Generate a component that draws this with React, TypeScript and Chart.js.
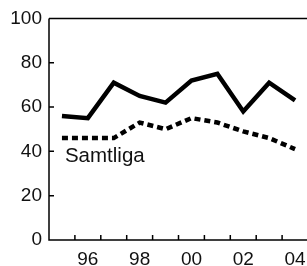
import React, { useEffect, useRef } from 'react';
import { Chart, registerables } from 'chart.js';

Chart.register(...registerables);

const years = ['1995', '1996', '1997', '1998', '1999', '2000', '2001', '2002', '2003', '2004'];
const yearLabels = ['', '96', '', '98', '', '00', '', '02', '', '04'];
const kvinnor = [56, 55, 71, 65, 62, 72, 75, 58, 71, 63];
const samtliga = [46, 46, 46, 53, 50, 55, 53, 49, 46, 41];
const seriesLabel = 'Samtliga';
const labelAnchorValue = 35;

const FONT = "'Liberation Sans', Arial, Helvetica, sans-serif";
const TEXT = '#111';

const framePlugin = {
  id: 'frame',
  afterDraw(chart: any) {
    const { ctx, chartArea, scales } = chart;
    const x = scales.x;
    const y = scales.y;
    ctx.save();
    ctx.strokeStyle = '#000';
    ctx.lineWidth = 1.5;
    ctx.beginPath();
    ctx.moveTo(chartArea.left, chartArea.top);
    ctx.lineTo(chartArea.left, chartArea.bottom);
    ctx.lineTo(chartArea.right, chartArea.bottom);
    ctx.moveTo(chartArea.left, chartArea.top);
    ctx.lineTo(chartArea.right, chartArea.top);
    // y ticks inward
    y.ticks.forEach((t: any) => {
      const py = y.getPixelForValue(t.value);
      ctx.moveTo(chartArea.left, py);
      ctx.lineTo(chartArea.left + 5, py);
    });
    // x ticks inward at category boundaries
    const step = x.getPixelForValue(1) - x.getPixelForValue(0);
    for (let i = 0; i < years.length; i++) {
      const bx = x.getPixelForValue(i) + step / 2;
      ctx.moveTo(bx, chartArea.bottom);
      ctx.lineTo(bx, chartArea.bottom - 5);
    }
    ctx.stroke();
    // series label
    ctx.fillStyle = TEXT;
    ctx.font = `20.5px ${FONT}`;
    ctx.textAlign = 'left';
    ctx.textBaseline = 'alphabetic';
    ctx.fillText(seriesLabel, x.getPixelForValue(0) + 3, y.getPixelForValue(labelAnchorValue));
    ctx.restore();
  },
};

export default function App() {
  const ref = useRef<HTMLCanvasElement>(null);
  useEffect(() => {
    if (!ref.current) return;
    const chart = new Chart(ref.current, {
      type: 'line',
      data: {
        labels: years,
        datasets: [
          {
            data: kvinnor,
            borderColor: '#000',
            borderWidth: 4.5,
            pointRadius: 0,
            tension: 0,
            borderJoinStyle: 'miter',
            borderCapStyle: 'butt',
          },
          {
            data: samtliga,
            borderColor: '#000',
            borderWidth: 4.5,
            borderDash: [6, 4],
            pointRadius: 0,
            tension: 0,
            borderJoinStyle: 'miter',
            borderCapStyle: 'butt',
          },
        ],
      },
      options: {
        animation: false,
        responsive: false,
        maintainAspectRatio: false,
        layout: { padding: { top: 16, right: 22, left: 0, bottom: 0 } },
        plugins: { legend: { display: false }, tooltip: { enabled: false } },
        scales: {
          x: {
            type: 'category',
            offset: true,
            grid: { display: false, drawTicks: false },
            border: { display: false },
            ticks: {
              autoSkip: false,
              maxRotation: 0,
              padding: 8,
              color: TEXT,
              font: { family: FONT, size: 19 },
              callback: (_v: any, i: number) => yearLabels[i],
            },
            afterFit: (s: any) => {
              s.height = 26;
            },
          },
          y: {
            min: 0,
            max: 100,
            grid: { display: false, drawTicks: false },
            border: { display: false },
            ticks: {
              stepSize: 20,
              padding: 7,
              color: TEXT,
              font: { family: FONT, size: 19 },
            },
            afterFit: (s: any) => {
              s.width = 49;
            },
          },
        },
      },
      plugins: [framePlugin],
    } as any);
    return () => chart.destroy();
  }, []);
  return (
    <div style={{ position: 'fixed', left: 0, top: 0, width: 307, height: 266, overflow: 'hidden', background: '#fff' }}>
      <canvas ref={ref} width={330} height={266} style={{ display: 'block' }} />
    </div>
  );
}
